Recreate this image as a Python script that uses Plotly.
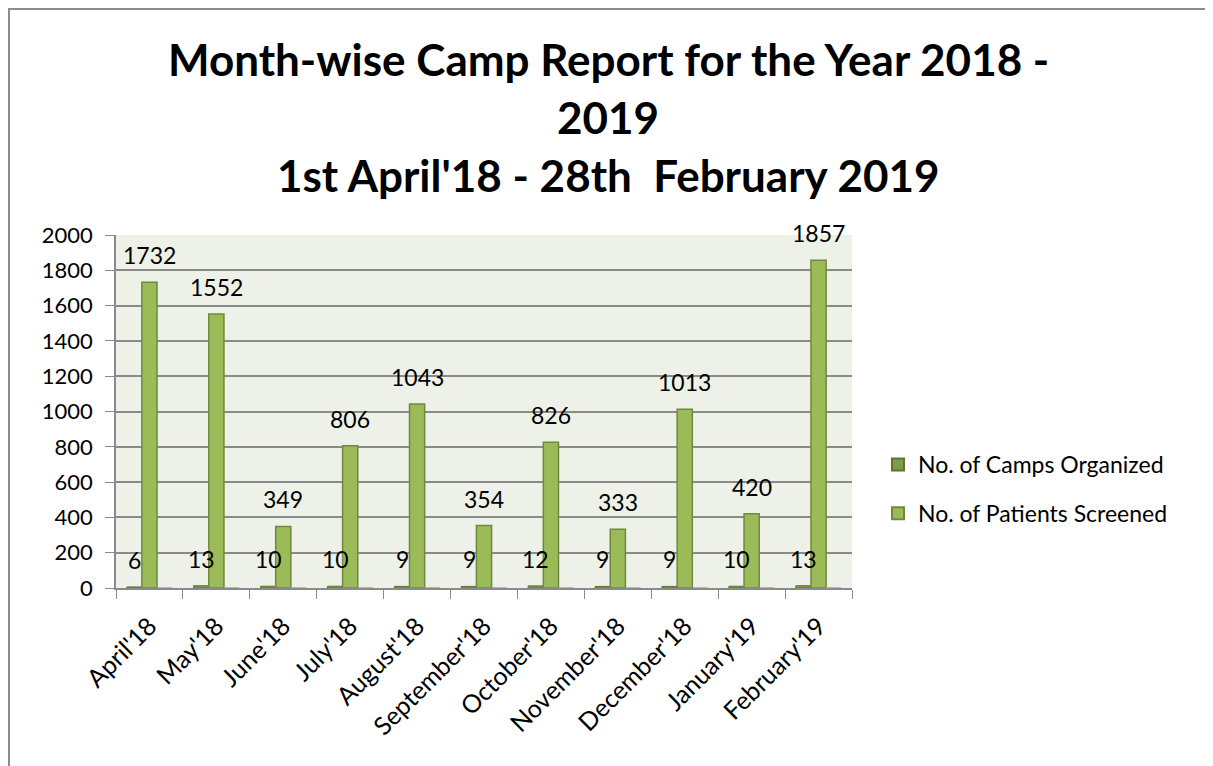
import plotly.graph_objects as go

months = ["April'18", "May'18", "June'18", "July'18", "August'18", "September'18",
          "October'18", "November'18", "December'18", "January'19", "February'19"]
camps = [6, 13, 10, 10, 9, 9, 12, 9, 9, 10, 13]
patients = [1732, 1552, 349, 806, 1043, 354, 826, 333, 1013, 420, 1857]
blank = [0] * len(months)

title_lines = ["Month-wise Camp Report for the Year 2018 -", "2019",
               "1st April'18 - 28th  February 2019"]

FONT = "Lato"
L, T, W, H = 108, 227, 736, 353   # plot area in figure pixels


def px(xp):
    return (xp - L) / W


def py(yp):
    return (T + H - yp) / H


fig = go.Figure()
fig.add_trace(go.Bar(x=months, y=camps, name="No. of Camps Organized",
                     marker=dict(color="#7F9A48", line=dict(color="#5E7530", width=1)),
                     legendgroup="a"))
fig.add_trace(go.Bar(x=months, y=patients, name="No. of Patients Screened",
                     marker=dict(color="#9BBB59", line=dict(color="#71893F", width=1.5)),
                     legendgroup="b"))
fig.add_trace(go.Bar(x=months, y=blank, name="", showlegend=False,
                     marker=dict(color="#C4BD97", line=dict(color="#9BAF72", width=1))))

annotations = []
off = 0.224
for i in range(len(months)):
    annotations.append(dict(x=i - off, y=camps[i], xref="x", yref="y", text=str(camps[i]),
                            showarrow=False, yshift=27, font=dict(size=23, color="#000", family=FONT)))
    annotations.append(dict(x=i, y=patients[i], xref="x", yref="y", text=str(patients[i]),
                            showarrow=False, yshift=27, font=dict(size=23, color="#000", family=FONT)))

for txt, ypix in zip(title_lines, [51, 109, 167]):
    annotations.append(dict(x=px(600), y=py(ypix), xref="paper", yref="paper",
                            text="<b>" + txt + "</b>", showarrow=False, xanchor="center", yanchor="middle",
                            font=dict(size=44, color="#000", family=FONT)))

fig.update_layout(
    width=1213, height=766,
    margin=dict(l=L, r=1213 - L - W, t=T, b=766 - T - H),
    paper_bgcolor="white", plot_bgcolor="#EEF1E8",
    barmode="group", bargap=0.32, bargroupgap=0,
    font=dict(family=FONT, size=22, color="#000"),
    showlegend=True,
    legend=dict(x=px(870), y=py(481), xanchor="left", yanchor="middle",
                font=dict(size=23, family=FONT, color="#000"), traceorder="grouped",
                tracegroupgap=16, itemsizing="constant", bgcolor="rgba(0,0,0,0)"),
    annotations=annotations,
    shapes=[dict(type="rect", xref="paper", yref="paper",
                 x0=px(1), x1=px(1199), y0=py(790), y1=py(1),
                 line=dict(color="#8C8C8C", width=2), fillcolor="rgba(0,0,0,0)", layer="below")],
)
fig.update_yaxes(range=[0, 2000], dtick=200, showgrid=True, gridcolor="#8A8A8A", gridwidth=1.5,
                 showline=True, linecolor="#8A8A8A", linewidth=1.5,
                 ticks="outside", ticklen=9, tickcolor="#8A8A8A", zeroline=False,
                 ticklabelstandoff=8,
                 tickfont=dict(size=22, family=FONT, color="#000"), fixedrange=True)
fig.update_xaxes(showline=True, linecolor="#8A8A8A", linewidth=1.5, ticks="outside",
                 tickson="boundaries", ticklen=9, tickcolor="#8A8A8A", tickangle=-45,
                 ticklabelstandoff=12,
                 tickfont=dict(size=25, family=FONT, color="#000"), showgrid=False)

fig.write_html("out.html")
